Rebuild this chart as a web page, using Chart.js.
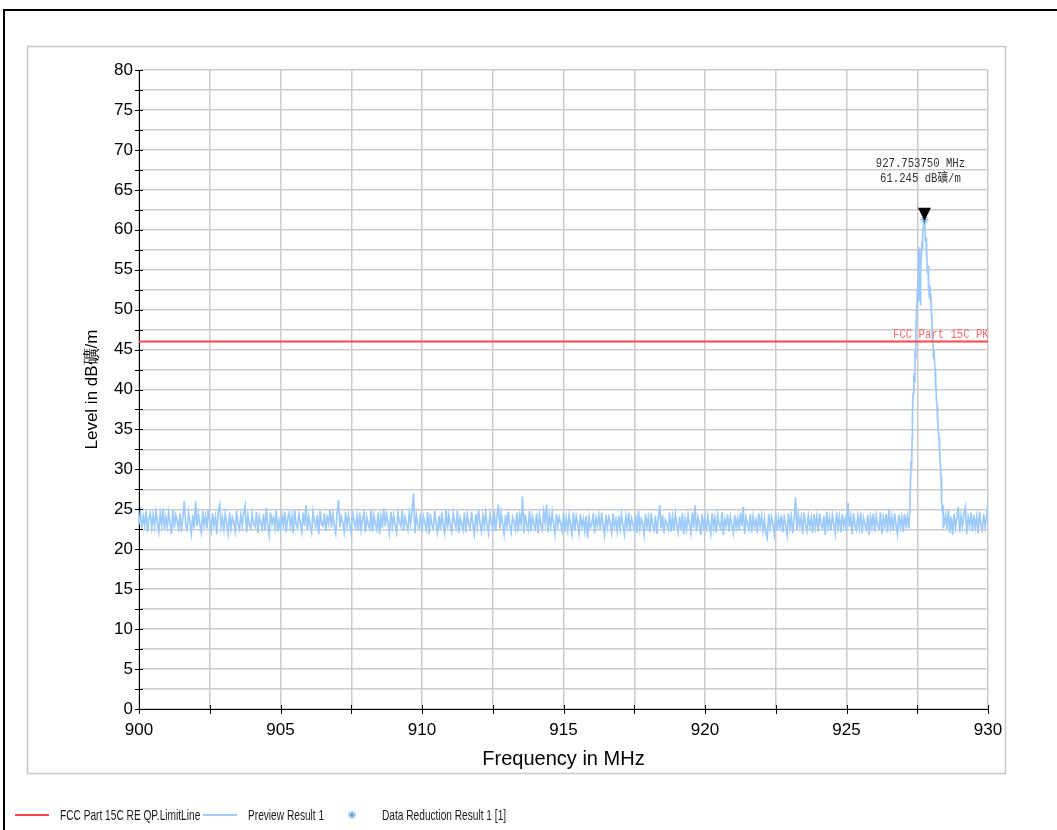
<!DOCTYPE html>
<html>
<head>
<meta charset="utf-8">
<title>Preview Result 1</title>
<script src="https://cdn.jsdelivr.net/npm/chart.js@4.4.1/dist/chart.umd.min.js"></script>
<style>
  html, body { margin: 0; padding: 0; background: #fff; }
  #wrap { width: 1057px; height: 830px; }
</style>
</head>
<body>
<div id="wrap"><canvas id="emiChart" width="1057" height="830"></canvas></div>
<script>
// sweep 900.00 .. 927.20 MHz, 0.05 MHz step (dBuV/m)
const sweepStart = 900;
const sweepStep = 0.05;
const noiseLow = [
  23.1, 24.6, 22.5, 24.2, 23.0, 24.8, 22.1, 23.9, 24.5, 22.7, 24.3, 22.9, 24.7, 23.3, 22.2, 24.4, 23.0, 25.1, 22.5, 24.0,
  22.8, 24.6, 23.2, 21.9, 24.9, 22.7, 24.3, 23.5, 22.6, 24.5, 22.2, 24.1, 26.0, 23.0, 22.5, 24.6, 23.4, 22.0, 24.3, 22.6,
  26.0, 22.9, 24.4, 23.1, 22.1, 24.8, 23.0, 24.2, 22.6, 25.0, 23.3, 22.3, 24.5, 23.0, 24.1, 21.9, 24.7, 25.6, 22.8, 24.0,
  22.5, 24.4, 23.2, 22.0, 24.6, 22.6, 24.0, 23.4, 22.2, 24.8, 23.1, 22.5, 24.3, 22.9, 24.6, 25.5, 22.1, 24.2, 23.0, 22.6,
  24.5, 23.1, 22.8, 24.7, 22.0, 24.1, 23.3, 22.6, 24.4, 22.3, 25.2, 23.0, 21.8, 24.6, 23.2, 24.0, 22.7, 24.8, 22.2, 23.6,
  22.5, 24.3, 23.0, 24.7, 22.1, 23.9, 24.5, 22.8, 24.2, 22.0, 24.9, 23.1, 22.7, 24.4, 23.3, 22.2, 24.6, 22.9, 25.5, 22.4,
  24.1, 23.0, 22.1, 24.7, 23.4, 22.8, 24.3, 21.9, 24.8, 23.1, 22.9, 24.5, 22.3, 24.0, 23.2, 25.0, 22.7, 24.4, 23.0, 22.0,
  24.6, 26.2, 22.8, 24.1, 23.3, 22.2, 24.7, 22.9, 24.3, 23.0, 22.0, 24.8, 23.4, 22.7, 24.2, 22.3, 24.6, 22.4, 23.8, 24.5,
  22.1, 24.0, 23.1, 22.6, 24.9, 22.2, 24.3, 23.2, 22.5, 24.6, 21.9, 24.1, 22.7, 25.1, 22.9, 24.4, 23.3, 22.0, 24.7, 22.8,
  24.2, 23.0, 22.1, 24.5, 23.4, 22.9, 24.8, 22.3, 24.0, 23.1, 22.4, 24.6, 23.2, 24.9, 27.0, 22.0, 24.3, 23.0, 22.6, 24.5,
  22.2, 24.1, 23.3, 22.5, 24.7, 21.9, 24.4, 23.0, 22.6, 24.8, 23.2, 22.1, 24.2, 22.4, 24.6, 23.1, 22.0, 25.0, 22.6, 24.3,
  23.0, 22.2, 24.5, 23.4, 22.7, 24.8, 22.0, 24.0, 23.2, 22.4, 24.6, 22.1, 24.3, 23.1, 22.6, 24.7, 23.0, 21.9, 24.4, 22.9,
  24.9, 23.2, 22.2, 24.2, 22.8, 24.6, 23.0, 22.0, 24.4, 23.3, 22.7, 24.8, 22.3, 24.1, 25.6, 22.6, 24.5, 23.1, 21.9, 24.3,
  22.8, 24.7, 23.0, 22.1, 24.0, 23.4, 22.5, 24.6, 22.2, 24.2, 23.1, 26.6, 22.0, 24.4, 23.0, 22.4, 24.8, 22.2, 24.1, 23.2,
  22.6, 24.5, 22.0, 24.3, 23.0, 22.5, 24.7, 23.3, 25.6, 22.1, 24.2, 22.8, 24.6, 23.1, 21.9, 24.4, 22.9, 24.0, 23.2, 22.3,
  24.5, 22.2, 23.9, 22.4, 24.3, 23.0, 21.9, 24.6, 22.3, 24.1, 23.2, 22.0, 24.4, 22.8, 23.8, 22.3, 24.2, 21.4, 24.0, 22.7,
  23.1, 24.5, 22.0, 23.9, 22.9, 24.2, 22.5, 24.6, 23.0, 21.8, 24.3, 22.7, 24.0, 23.3, 22.1, 24.5, 22.8, 23.7, 22.2, 24.2,
  22.6, 24.4, 23.0, 21.9, 24.1, 22.8, 24.6, 22.2, 23.9, 23.2, 22.4, 24.3, 22.0, 24.8, 22.5, 23.8, 23.1, 21.8, 24.4, 22.9,
  24.0, 22.1, 24.5, 23.0, 22.4, 24.2, 21.9, 23.9, 25.5, 22.6, 24.3, 22.0, 23.7, 23.2, 22.5, 24.6, 22.2, 24.0, 22.3, 24.4,
  23.0, 22.1, 24.1, 22.4, 24.5, 21.9, 23.8, 22.5, 24.3, 23.1, 22.0, 24.6, 22.7, 25.5, 22.2, 24.0, 23.2, 21.8, 24.4, 22.8,
  23.9, 22.2, 24.2, 23.0, 21.9, 24.5, 22.7, 24.0, 22.1, 24.3, 23.1, 22.6, 24.7, 21.8, 23.8, 22.9, 24.4, 22.2, 24.1, 23.0,
  22.0, 24.3, 22.7, 23.9, 22.3, 24.6, 22.9, 25.3, 21.9, 24.0, 23.2, 22.5, 24.4, 22.1, 24.1, 22.8, 23.7, 22.0, 24.5, 22.9,
  24.2, 22.3, 23.8, 22.0, 21.4, 24.4, 22.7, 24.0, 23.1, 21.9, 24.6, 22.4, 23.9, 22.8, 24.3, 22.1, 24.0, 23.0, 21.8, 24.5,
  22.7, 24.1, 22.0, 23.8, 26.5, 22.4, 24.3, 22.9, 24.0, 21.9, 24.6, 23.1, 22.3, 24.2, 22.8, 23.9, 22.0, 24.4, 22.7, 24.1,
  22.2, 24.5, 23.0, 22.6, 24.2, 21.8, 24.7, 22.8, 23.9, 22.3, 24.3, 23.2, 22.0, 24.6, 22.7, 24.0, 22.1, 24.4, 22.9, 23.8,
  22.3, 25.8, 22.8, 24.1, 21.9, 24.5, 23.0, 22.4, 24.2, 22.7, 24.6, 22.0, 23.9, 23.1, 22.5, 24.3, 21.8, 24.0, 22.8, 24.5,
  22.2, 24.2, 23.0, 22.6, 24.6, 21.9, 24.0, 22.9, 24.4, 22.1, 25.0, 22.7, 24.1, 22.3, 24.5, 23.0, 21.9, 24.3, 22.8, 24.0,
  22.2, 24.4, 22.9, 24.1, 22.6
];

// carrier around 927.75 MHz
const peakFreq = [
  927.24, 927.26, 927.28, 927.30, 927.32, 927.33, 927.35, 927.38, 927.40, 927.42, 927.44, 927.45, 927.49,
  927.53, 927.54, 927.56, 927.58, 927.60, 927.61, 927.63, 927.65, 927.67, 927.68, 927.70, 927.72, 927.75375,
  927.77, 927.79, 927.81, 927.82, 927.84, 927.86, 927.88, 927.89, 927.91, 927.93, 927.95, 927.97, 927.98,
  928.00, 928.02, 928.04, 928.05, 928.07, 928.09, 928.11, 928.13, 928.14, 928.16, 928.18, 928.20, 928.21,
  928.23, 928.25, 928.27, 928.28, 928.30, 928.32, 928.34, 928.35, 928.37, 928.39, 928.41, 928.42
];
const peakLevel = [
  25.0, 28.5, 31.0, 30.0, 34.0, 37.0, 39.5, 42.0, 41.0, 45.0, 44.0, 47.5, 51.0,
  54.0, 57.5, 51.0, 57.8, 56.0, 50.5, 55.0, 57.0, 58.5, 57.5, 59.5, 60.5, 61.245,
  60.0, 58.5, 59.0, 56.5, 57.5, 54.5, 55.5, 52.5, 53.5, 51.5, 53.0, 51.0, 52.0,
  49.5, 48.0, 46.0, 47.0, 44.0, 45.0, 43.5, 42.5, 40.0, 41.0, 38.5, 38.0, 36.0,
  36.5, 34.5, 34.0, 32.0, 32.5, 30.5, 29.0, 27.5, 26.0, 24.5, 25.5, 22.8
];

// 928.45 .. 930.00 MHz
const noiseHighStart = 928.45;
const noiseHigh = [
  23.0, 24.3, 22.5, 25.0, 22.0, 24.1, 21.8, 24.4, 22.7, 23.9, 25.3, 22.1, 24.2, 22.8, 24.5, 25.3,
  21.9, 24.0, 22.9, 24.6, 22.2, 24.3, 22.7, 24.1, 22.0, 24.7, 23.0, 22.4, 24.4, 22.8, 24.0, 25.9
];

const limitFreq = [900, 930];
const limitLevel = [46, 46];
const markerFreq = 927.75375;
const markerLevel = 61.245;

const xTicks = { min: 900, max: 930, step: 2.5 };
const yTicks = { min: 0, max: 80, step: 2.5 };

const limitColor = '#ff4646';
const traceColor = '#9ccafa';
const reductionColor = '#3f93dc';
const sansFont = '"Liberation Sans", Arial, sans-serif';
const monoFont = '"Liberation Mono", "Noto Sans CJK SC", monospace';

function buildTrace() {
  const pts = [];
  noiseLow.forEach((v, i) => pts.push({ x: +(sweepStart + i * sweepStep).toFixed(2), y: v }));
  peakFreq.forEach((f, i) => pts.push({ x: f, y: peakLevel[i] }));
  noiseHigh.forEach((v, i) => pts.push({ x: +(noiseHighStart + i * sweepStep).toFixed(2), y: v }));
  return pts;
}

function isMajor(v) {
  return Math.abs(v % 5) < 1e-6 || Math.abs(v % 5 - 5) < 1e-6;
}

// narrow text like the analyser's SimSun labels
function squeezedText(c, text, x, y, sx) {
  c.save();
  c.translate(x, y);
  c.scale(sx, 1);
  c.fillText(text, 0, 0);
  c.restore();
}

// frame, tick marks, marker annotation and legend
const decorPlugin = {
  id: 'decor',
  beforeDraw(chart) {
    const c = chart.ctx;
    c.save();
    c.fillStyle = '#fff';
    c.fillRect(0, 0, chart.width, chart.height);
    c.strokeStyle = '#000';
    c.lineWidth = 2;
    c.beginPath();
    c.moveTo(1057, 10);
    c.lineTo(4, 10);
    c.lineTo(4, 830);
    c.stroke();
    c.strokeStyle = '#c8c8c8';
    c.lineWidth = 1.5;
    c.strokeRect(27.5, 46.5, 978, 727);
    c.restore();
  },
  afterDatasetsDraw(chart) {
    const c = chart.ctx;
    const x = chart.scales.x;
    const y = chart.scales.y;
    const area = chart.chartArea;
    c.save();

    // limit line label, clipped at the plot edge
    c.save();
    c.beginPath();
    c.rect(area.left, area.top, area.right - area.left, area.bottom - area.top);
    c.clip();
    c.font = '12.5px ' + monoFont;
    c.fillStyle = '#ff6a6a';
    c.textAlign = 'left';
    c.textBaseline = 'middle';
    squeezedText(c, 'FCC Part 15C PK', area.right - 95, y.getPixelForValue(limitLevel[0]) - 7, 0.85);
    c.restore();

    // peak marker
    const px = x.getPixelForValue(markerFreq);
    const py = y.getPixelForValue(markerLevel);
    c.fillStyle = '#000';
    c.beginPath();
    c.moveTo(px - 6.5, py - 12);
    c.lineTo(px + 6.5, py - 12);
    c.lineTo(px, py + 1);
    c.closePath();
    c.fill();

    c.font = '12.5px ' + monoFont;
    c.fillStyle = '#333';
    c.textAlign = 'center';
    c.textBaseline = 'middle';
    squeezedText(c, markerFreq.toFixed(6) + ' MHz', px - 4, py - 56, 0.85);
    squeezedText(c, markerLevel.toFixed(3) + ' dB礦/m', px - 4, py - 41, 0.85);

    // tick marks crossing the axes
    c.strokeStyle = '#000';
    c.lineWidth = 1;
    c.beginPath();
    x.ticks.forEach(t => {
      const tx = Math.round(x.getPixelForValue(t.value)) + 0.5;
      c.moveTo(tx, area.bottom - 4);
      c.lineTo(tx, area.bottom + 5);
    });
    y.ticks.forEach(t => {
      const ty = Math.round(y.getPixelForValue(t.value)) + 0.5;
      c.moveTo(area.left - 4, ty);
      c.lineTo(area.left + 4, ty);
    });
    c.stroke();
    c.restore();
  },
  afterDraw(chart) {
    const c = chart.ctx;
    const ly = 815;
    c.save();
    c.lineWidth = 2;
    c.strokeStyle = limitColor;
    c.beginPath(); c.moveTo(15, ly); c.lineTo(49, ly); c.stroke();
    c.strokeStyle = traceColor;
    c.beginPath(); c.moveTo(203, ly); c.lineTo(237, ly); c.stroke();
    c.strokeStyle = reductionColor;
    c.lineWidth = 1;
    Chart.helpers.drawPoint(c, { pointStyle: 'star', radius: 4, rotation: 0, borderWidth: 1 }, 352, ly);

    const labels = [
      ['FCC Part 15C RE QP.LimitLine', 60],
      ['Preview Result 1', 248],
      ['Data Reduction Result 1 [1]', 382]
    ];
    c.fillStyle = '#1a1a1a';
    c.font = '14.5px ' + sansFont;
    c.textBaseline = 'middle';
    c.textAlign = 'left';
    labels.forEach(([text, lx]) => squeezedText(c, text, lx, ly + 1, 0.7));
    c.restore();
  }
};

const chart = new Chart(document.getElementById('emiChart').getContext('2d'), {
  type: 'line',
  data: {
    datasets: [
      {
        label: 'FCC Part 15C RE QP.LimitLine',
        data: limitFreq.map((f, i) => ({ x: f, y: limitLevel[i] })),
        borderColor: limitColor,
        borderWidth: 2,
        pointRadius: 0,
        order: 1
      },
      {
        label: 'Preview Result 1',
        data: buildTrace(),
        borderColor: traceColor,
        borderWidth: 1.7,
        pointRadius: 0,
        tension: 0,
        order: 2
      },
      {
        label: 'Data Reduction Result 1 [1]',
        data: [{ x: markerFreq, y: markerLevel }],
        showLine: false,
        pointStyle: 'star',
        pointRadius: 4,
        borderColor: reductionColor,
        borderWidth: 1,
        order: 0
      }
    ]
  },
  options: {
    responsive: false,
    animation: false,
    parsing: false,
    devicePixelRatio: 1,
    layout: { padding: { top: 70, right: 69, bottom: 51, left: 70 } },
    plugins: {
      legend: { display: false },
      tooltip: { enabled: false }
    },
    scales: {
      x: {
        type: 'linear',
        min: xTicks.min,
        max: xTicks.max,
        afterFit(scale) { scale.height = 70; },
        border: { color: '#000', width: 1 },
        grid: { color: '#cbcbcb', lineWidth: 1.5, drawTicks: false },
        ticks: {
          stepSize: xTicks.step,
          autoSkip: false,
          maxRotation: 0,
          padding: 11,
          color: '#000',
          font: { family: sansFont, size: 17 },
          callback: v => isMajor(v) ? String(Math.round(v)) : ''
        },
        title: {
          display: true,
          text: 'Frequency in MHz',
          color: '#000',
          font: { family: sansFont, size: 20 },
          padding: { top: 0, bottom: 8 }
        }
      },
      y: {
        type: 'linear',
        min: yTicks.min,
        max: yTicks.max,
        afterFit(scale) { scale.width = 69; },
        border: { color: '#000', width: 1 },
        grid: { color: '#cbcbcb', lineWidth: 1.5, drawTicks: false },
        ticks: {
          stepSize: yTicks.step,
          autoSkip: false,
          padding: 6,
          color: '#000',
          font: { family: sansFont, size: 17 },
          callback: v => isMajor(v) ? String(Math.round(v)) : ''
        },
        title: {
          display: true,
          text: 'Level in dB礦/m',
          color: '#000',
          font: { family: sansFont, size: 17 },
          padding: { top: 12, bottom: 0 }
        }
      }
    }
  },
  plugins: [decorPlugin]
});
</script>
</body>
</html>
